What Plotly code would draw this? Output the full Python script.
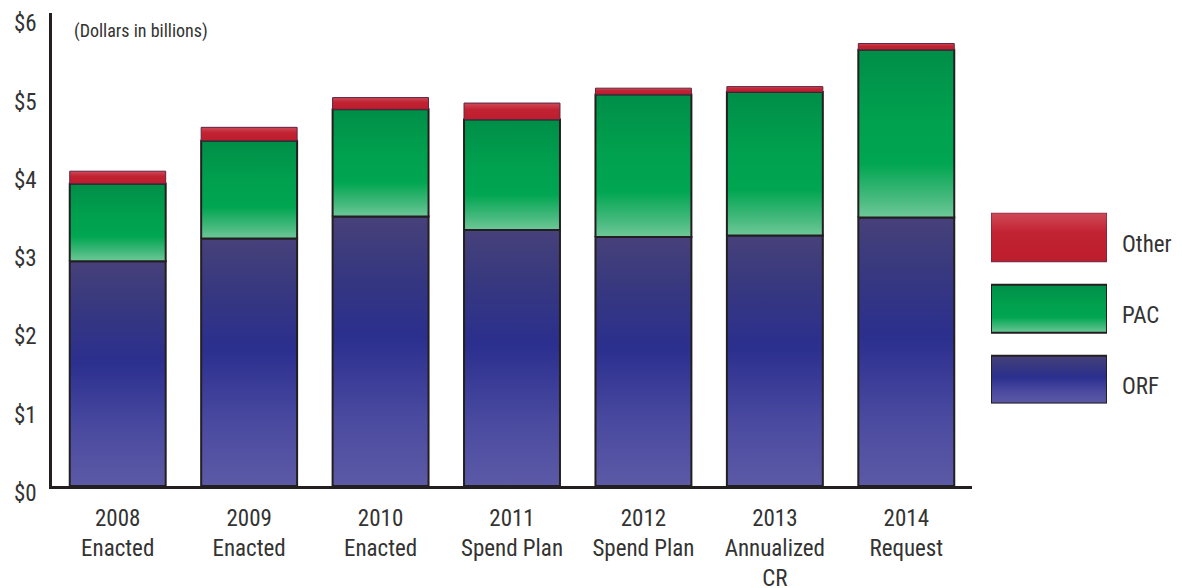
import plotly.graph_objects as go

# Budget by fiscal year, dollars in billions
categories = [
    "2008<br>Enacted",
    "2009<br>Enacted",
    "2010<br>Enacted",
    "2011<br>Spend Plan",
    "2012<br>Spend Plan",
    "2013<br>Annualized<br>CR",
    "2014<br>Request",
]
orf = [2.87, 3.16, 3.44, 3.27, 3.18, 3.20, 3.43]
pac = [0.99, 1.25, 1.37, 1.41, 1.82, 1.83, 2.14]
other = [0.16, 0.17, 0.15, 0.21, 0.08, 0.07, 0.08]

ytick_vals = [0, 1, 2, 3, 4, 5, 6]
ytick_text = ["$0", "$1", "$2", "$3", "$4", "$5", "$6"]

series_names = ["ORF", "PAC", "Other"]
series_values = [orf, pac, other]

FONT = ("Roboto Condensed, Noto Sans ExtraCondensed, Noto Sans Condensed, "
        "Liberation Sans Narrow, DejaVu Sans Condensed, sans-serif")
TEXT = "#333333"
EDGE = "#231f20"
WEIGHT = 400

# vertical gradients, listed bottom -> top
gradients = {
    "ORF": [[0.0, "#5c5aa6"], [0.25, "#4a4aa0"], [0.55, "#2b2f8e"],
            [0.8, "#37387f"], [1.0, "#47417a"]],
    "PAC": [[0.0, "#6fc898"], [0.12, "#44b97c"], [0.32, "#00a651"],
            [0.6, "#00a04e"], [1.0, "#008e48"]],
    "Other": [[0.0, "#bd1d2d"], [0.6, "#c22333"], [1.0, "#cf4a58"]],
}
outlines = {"ORF": (EDGE, 2), "PAC": (EDGE, 2), "Other": ("#5c2443", 1)}

half = 0.365
fig = go.Figure()

base = [0.0] * len(categories)
for name, vals in zip(series_names, series_values):
    color, width = outlines[name]
    for i, v in enumerate(vals):
        b, t = base[i], base[i] + v
        fig.add_trace(go.Scatter(
            x=[i - half, i + half, i + half, i - half, i - half],
            y=[b, b, t, t, b],
            mode="lines",
            fill="toself",
            fillgradient=dict(type="vertical", colorscale=gradients[name]),
            line=dict(color=color, width=width),
            name=name,
            showlegend=False,
            hovertemplate=f"{name}: ${v:.2f}B<extra></extra>",
            xaxis="x", yaxis="y",
        ))
        base[i] = t

# legend swatches drawn on their own small axes
legend_boxes = {"ORF": (0, 48), "PAC": (71, 119), "Other": (142, 191)}
for name in series_names:
    lo, hi = legend_boxes[name]
    color, width = outlines[name]
    fig.add_trace(go.Scatter(
        x=[0, 1, 1, 0, 0], y=[lo, lo, hi, hi, lo],
        mode="lines", fill="toself",
        fillgradient=dict(type="vertical", colorscale=gradients[name]),
        line=dict(color=color, width=width),
        showlegend=False, hoverinfo="skip",
        xaxis="x2", yaxis="y2",
    ))

W, H = 1182, 588
ML, MT, MB = 52, 13, 101.5
pw = W - ML
ph = H - MT - MB
x_end = (972 - ML) / pw

tick_font = dict(size=23, color=TEXT, family=FONT, weight=WEIGHT)

fig.update_layout(
    width=W, height=H,
    margin=dict(l=ML, r=0, t=MT, b=MB),
    paper_bgcolor="white", plot_bgcolor="white",
    font=dict(family=FONT, color=TEXT, weight=WEIGHT),
    showlegend=False,
    xaxis=dict(
        domain=[0, x_end], range=[-0.5, 6.5],
        tickvals=list(range(len(categories))), ticktext=categories,
        showgrid=False, zeroline=False, automargin=False,
        showline=True, linecolor=EDGE, linewidth=2.5,
        ticks="", tickfont=tick_font, ticklabelstandoff=10,
    ),
    yaxis=dict(
        range=[0, 6.04], tickvals=ytick_vals, ticktext=ytick_text,
        showgrid=False, zeroline=False, automargin=False,
        showline=True, linecolor=EDGE, linewidth=2.5,
        ticks="", tickfont=tick_font, ticklabelstandoff=8,
        ticklabelshift=7, ticklabeloverflow="allow",
    ),
    xaxis2=dict(
        domain=[(991 - ML) / pw, (1107 - ML) / pw], range=[0, 1],
        visible=False, anchor="y2",
    ),
    yaxis2=dict(
        domain=[(H - MB - 404) / ph, (H - MB - 213) / ph], range=[0, 191],
        visible=False, anchor="x2",
    ),
)

fig.add_annotation(
    text="(Dollars in billions)", xref="paper", yref="paper",
    x=(72 - ML) / pw, y=(H - MB - 31) / ph, xanchor="left", yanchor="middle",
    showarrow=False, font=dict(size=18, color=TEXT, family=FONT, weight=WEIGHT),
)

legend_label_y = {"Other": 245, "PAC": 316, "ORF": 387}
for name in series_names:
    fig.add_annotation(
        text=name, xref="paper", yref="paper",
        x=(1120 - ML) / pw, y=(H - MB - legend_label_y[name]) / ph,
        xanchor="left", yanchor="middle", showarrow=False,
        font=dict(size=23, color=TEXT, family=FONT, weight=WEIGHT),
    )

fig.write_html("out.html")
